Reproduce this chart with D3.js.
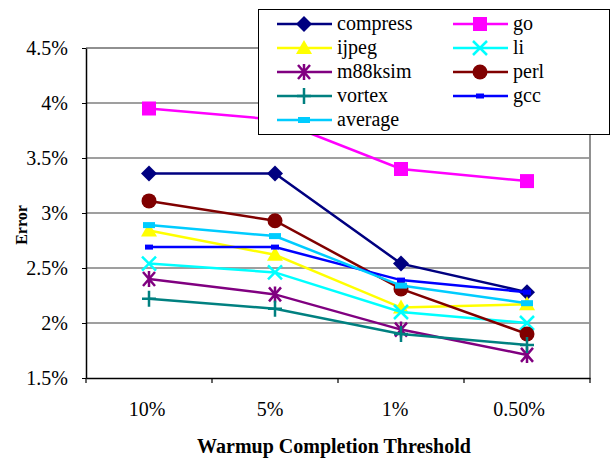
<!DOCTYPE html>
<html>
<head>
<meta charset="utf-8">
<script src="https://cdn.jsdelivr.net/npm/d3@7"></script>
<style>
  html, body { margin: 0; padding: 0; background: #fff; }
  svg { display: block; }
</style>
</head>
<body>
<svg id="chart" width="612" height="459"></svg>
<script>
// Warmup completion thresholds on the x axis
const thresholds = ["10%", "5%", "1%", "0.50%"];
const yTicks = [1.5, 2, 2.5, 3, 3.5, 4, 4.5];

// Error (%) per benchmark at each threshold
const compress = [3.36, 3.36, 2.54, 2.28];
const go       = [3.95, 3.85, 3.40, 3.29];
const ijpeg    = [2.84, 2.62, 2.14, 2.17];
const li       = [2.54, 2.46, 2.10, 2.00];
const m88ksim  = [2.40, 2.26, 1.94, 1.71];
const perl     = [3.11, 2.93, 2.31, 1.90];
const vortex   = [2.22, 2.13, 1.90, 1.80];
const gcc      = [2.69, 2.69, 2.39, 2.28];
const average  = [2.89, 2.79, 2.34, 2.18];

const series = [
  { name: "compress", values: compress, color: "#000080", marker: "diamond" },
  { name: "go",       values: go,       color: "#FF00FF", marker: "square" },
  { name: "ijpeg",    values: ijpeg,    color: "#FFFF00", marker: "triangle" },
  { name: "li",       values: li,       color: "#00FFFF", marker: "x" },
  { name: "m88ksim",  values: m88ksim,  color: "#800080", marker: "asterisk" },
  { name: "perl",     values: perl,     color: "#800000", marker: "circle" },
  { name: "vortex",   values: vortex,   color: "#008080", marker: "plus" },
  { name: "gcc",      values: gcc,      color: "#0000FF", marker: "dash" },
  { name: "average",  values: average,  color: "#00CCFF", marker: "wideDash" }
];

const FONT = "Liberation Serif";

const svg = d3.select("#chart");
const plot = { left: 86, right: 590, top: 48, bottom: 378 };

const x = d3.scaleBand().domain(thresholds).range([plot.left, plot.right]);
const y = d3.scaleLinear().domain([1.5, 4.5]).range([plot.bottom, plot.top]);

// horizontal gridlines
svg.append("g").selectAll("line")
  .data(yTicks.filter(t => t > 1.5 && t < 4.5))
  .join("line")
  .attr("x1", plot.left).attr("x2", plot.right)
  .attr("y1", d => y(d)).attr("y2", d => y(d))
  .attr("stroke", "#404040").attr("stroke-width", 1.2);

// top and right frame in gray
svg.append("path")
  .attr("d", `M${plot.left},${y(4.5)}H${plot.right}V${plot.bottom}`)
  .attr("fill", "none").attr("stroke", "#909090").attr("stroke-width", 2);

// y axis
const yAxis = d3.axisLeft(y).tickValues(yTicks)
  .tickFormat(d => d + "%").tickSize(4).tickSizeOuter(0);
const gy = svg.append("g").attr("transform", `translate(${plot.left},0)`).call(yAxis)
  .attr("font-family", FONT).attr("font-size", 20);
gy.select(".domain").attr("stroke", "#000").attr("stroke-width", 1.5);
gy.selectAll(".tick line").attr("stroke", "#000");
gy.selectAll(".tick text")
  .attr("x", -18).attr("fill", "#000")
  .style("font-family", FONT).style("font-size", "20px");

// x axis: ticks on band boundaries, labels in band centers
const labelShift = [-2, -5, -6, -8];
const xAxis = d3.axisBottom(x).tickSize(0).tickSizeOuter(0);
const gx = svg.append("g").attr("transform", `translate(0,${plot.bottom})`).call(xAxis)
  .attr("font-family", FONT).attr("font-size", 20);
gx.select(".domain").attr("stroke", "#000").attr("stroke-width", 1.5);
gx.selectAll(".tick text")
  .attr("y", 24).attr("dy", "0.71em").attr("fill", "#000")
  .attr("dx", (d, i) => labelShift[i])
  .style("font-family", FONT).style("font-size", "20px");
const boundaries = thresholds.map(t => x(t)).concat([x(thresholds[thresholds.length - 1]) + x.bandwidth()]);
gx.append("g").selectAll("line").data(boundaries).join("line")
  .attr("x1", d => d).attr("x2", d => d).attr("y1", 0).attr("y2", 5)
  .attr("stroke", "#000").attr("stroke-width", 1.2);

// axis titles
svg.append("text")
  .attr("transform", `translate(27,${(plot.top + plot.bottom) / 2 + 12}) rotate(-90)`)
  .attr("text-anchor", "middle")
  .style("font-family", FONT).style("font-weight", "bold").style("font-size", "16px")
  .text("Error");
svg.append("text")
  .attr("x", 334).attr("y", 453)
  .attr("text-anchor", "middle")
  .style("font-family", FONT).style("font-weight", "bold").style("font-size", "20px")
  .text("Warmup Completion Threshold");

// marker shapes
function drawMarker(g, type, color) {
  switch (type) {
    case "diamond":
      g.append("path").attr("d", "M0,-8L8,0L0,8L-8,0Z").attr("fill", color); break;
    case "square":
      g.append("rect").attr("x", -7).attr("y", -7).attr("width", 14).attr("height", 14).attr("fill", color); break;
    case "triangle":
      g.append("path").attr("d", "M0,-8L8,6L-8,6Z").attr("fill", color); break;
    case "circle":
      g.append("circle").attr("r", 7.5).attr("fill", color); break;
    case "x":
      g.append("path").attr("d", "M-7,-7L7,7M-7,7L7,-7").attr("stroke", color).attr("stroke-width", 2.5); break;
    case "asterisk":
      g.append("path").attr("d", "M-6,-7L6,7M-6,7L6,-7M0,-8V8").attr("stroke", color).attr("stroke-width", 2.5); break;
    case "plus":
      g.append("path").attr("d", "M-7,0H7M0,-8V8").attr("stroke", color).attr("stroke-width", 2.5); break;
    case "dash":
      g.append("rect").attr("x", -4).attr("y", -2.5).attr("width", 8).attr("height", 5).attr("fill", color); break;
    case "wideDash":
      g.append("rect").attr("x", -6).attr("y", -3).attr("width", 12).attr("height", 6).attr("fill", color); break;
  }
}

const line = d3.line()
  .x((d, i) => x(thresholds[i]) + x.bandwidth() / 2)
  .y(d => y(d));

const gs = svg.append("g").selectAll("g").data(series).join("g");
gs.append("path")
  .attr("d", d => line(d.values))
  .attr("fill", "none").attr("stroke", d => d.color).attr("stroke-width", 2.5);
gs.each(function (s) {
  const g = d3.select(this);
  s.values.forEach((v, i) => {
    const m = g.append("g")
      .attr("transform", `translate(${x(thresholds[i]) + x.bandwidth() / 2},${y(v)})`);
    drawMarker(m, s.marker, s.color);
  });
});

// legend
const legend = svg.append("g");
legend.append("rect")
  .attr("x", 258.5).attr("y", 9.5).attr("width", 351).attr("height", 125)
  .attr("fill", "#fff").attr("stroke", "#000").attr("stroke-width", 1);
const legendOrder = ["compress", "go", "ijpeg", "li", "m88ksim", "perl", "vortex", "gcc", "average"];
legendOrder.forEach((name, k) => {
  const s = series.find(d => d.name === name);
  const col = k % 2, row = Math.floor(k / 2);
  const x0 = col === 0 ? 277 : 453;
  const cy = 24 + row * 24;
  const item = legend.append("g");
  item.append("line").attr("x1", x0).attr("x2", x0 + 55).attr("y1", cy).attr("y2", cy)
    .attr("stroke", s.color).attr("stroke-width", 2.5);
  const m = item.append("g").attr("transform", `translate(${x0 + 27},${cy})`);
  drawMarker(m, s.marker, s.color);
  item.append("text").attr("x", x0 + 60).attr("y", cy).attr("dy", "0.32em")
    .style("font-family", FONT).style("font-size", "20px").text(name);
});
</script>
</body>
</html>
